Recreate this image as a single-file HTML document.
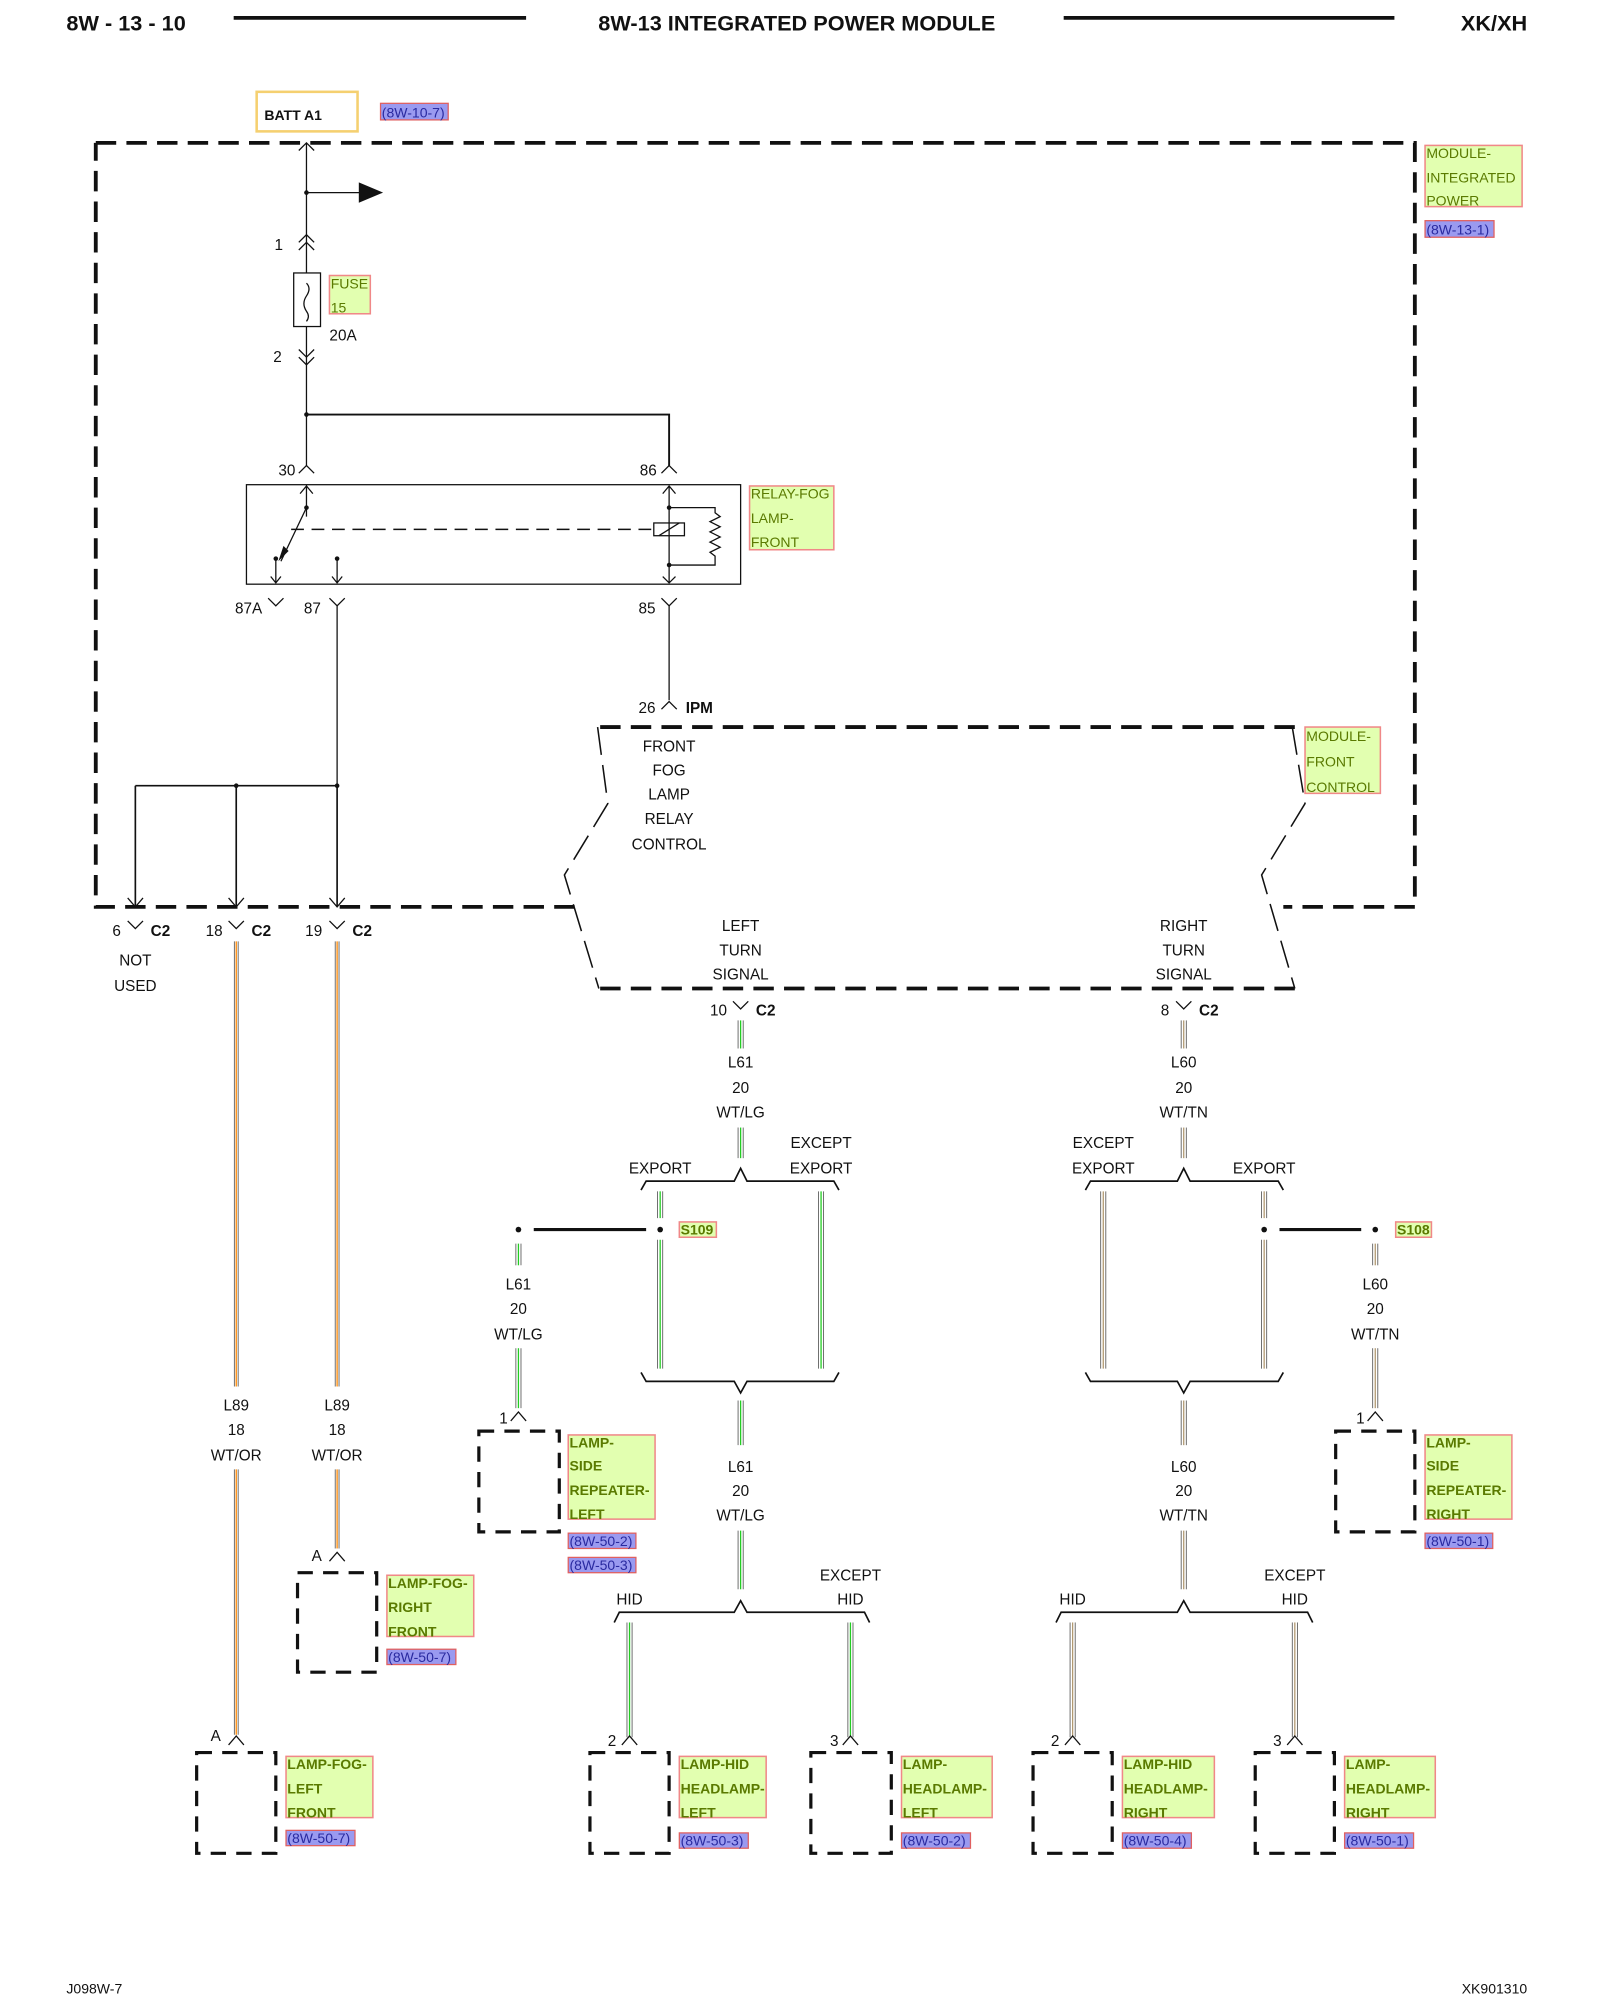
<!DOCTYPE html>
<html><head><meta charset="utf-8"><style>
html,body{margin:0;padding:0;background:#fff;}
svg{display:block;}
text{font-family:"Liberation Sans",sans-serif;font-size:12px;fill:#111;}
.b{font-weight:bold;}
.c{text-anchor:middle;}
.g{fill:#5a7a00;}
.r{fill:#2a2aa0;}
.gb{fill:#e2ffb0;stroke:#f08888;stroke-width:1.2;}
.rb{fill:#9a9af0;stroke:#e06060;stroke-width:1;}
.w{stroke:#111;stroke-width:1;fill:none;}
.d{stroke:#111;stroke-width:3;fill:none;stroke-dasharray:16,8;}
.db{stroke:#111;stroke-width:2.5;fill:none;stroke-dasharray:12,8;}
.gr{stroke:#22cc22;stroke-width:1;}
.tn{stroke:#b09870;stroke-width:1;}
.or{stroke:#ff8800;stroke-width:1;}
.k{stroke:#444;stroke-width:0.6;}
</style></head><body>
<svg width="1600" height="2000" viewBox="0 0 1253 1568" preserveAspectRatio="none" xmlns="http://www.w3.org/2000/svg">
<!-- header -->
<text x="52" y="24" class="b" style="font-size:17px">8W - 13 - 10</text>
<line x1="183" y1="14" x2="412" y2="14" stroke="#111" stroke-width="3"/>
<text x="624" y="24" class="b c" style="font-size:17px">8W-13 INTEGRATED POWER MODULE</text>
<line x1="833" y1="14" x2="1092" y2="14" stroke="#111" stroke-width="3"/>
<text x="1196" y="24" class="b" style="font-size:17px;text-anchor:end">XK/XH</text>

<!-- BATT -->
<rect x="201" y="72" width="79" height="31" fill="none" stroke="#f5d070" stroke-width="2"/>
<text x="207" y="94" class="b" style="font-size:11px">BATT A1</text>
<rect x="298" y="81" width="53" height="13" class="rb"/><text x="299" y="92" class="r" style="font-size:11px">(8W-10-7)</text>

<!-- module integrated power box -->
<path class="d" d="M75 112 H1108 V711 H1005 M450 711 H75 V112"/>
<rect x="1116" y="114" width="76" height="48" class="gb"/>
<text x="1117" y="124" class="g" style="font-size:11px">MODULE-</text>
<text x="1117" y="143" class="g" style="font-size:11px">INTEGRATED</text>
<text x="1117" y="161" class="g" style="font-size:11px">POWER</text>
<rect x="1116" y="173" width="54" height="13" class="rb"/><text x="1117" y="184" class="r" style="font-size:11px">(8W-13-1)</text>

<!-- main feed -->
<path class="w" d="M240 112 V214 M240 256 V365 M234 118 L240 112 L246 118"/>
<path class="w" d="M240 151 H284"/><circle cx="240" cy="151" r="1.8" fill="#111"/>
<path d="M281 143 L300 151 L281 159 Z" fill="#111"/>
<path class="w" d="M234 190 L240 184 L246 190 M234 196 L240 190 L246 196"/>
<text x="215" y="196">1</text>
<rect x="230" y="214" width="21" height="42" fill="#fff" stroke="#111"/>
<path class="w" d="M240 222 q4 4 0 10 q-4 6 0 12 q3 4 0 8"/>
<rect x="258" y="216" width="32" height="30" class="gb"/>
<text x="259" y="226" class="g" style="font-size:11px">FUSE</text>
<text x="259" y="245" class="g" style="font-size:11px">15</text>
<text x="258" y="267">20A</text>
<path class="w" d="M234 274 L240 280 L246 274 M234 280 L240 286 L246 280"/>
<text x="214" y="284">2</text>
<circle cx="240" cy="325" r="1.8" fill="#111"/>
<path class="w" d="M240 325 H524 V365" style="stroke-width:1.5"/>
<path class="w" d="M234 371 L240 365 L246 371 M518 371 L524 365 L530 371"/>
<text x="218" y="373">30</text><text x="501" y="373">86</text>

<!-- relay -->
<rect x="193" y="380" width="387" height="78" fill="none" stroke="#111" stroke-width="1"/>
<path class="w" d="M240 380 V405 M235 387 L240 381 L245 387"/>
<circle cx="240" cy="398" r="1.8" fill="#111"/>
<path class="w" d="M240 398 L220 440"/><path d="M218 440 L222 428 L226 432 Z" fill="#111"/>
<circle cx="216" cy="438" r="1.8" fill="#111"/>
<path class="w" d="M216 438 V457 M212 452 L216 457 L220 452"/>
<circle cx="264" cy="438" r="1.8" fill="#111"/>
<path class="w" d="M264 438 V457 M260 452 L264 457 L268 452"/>
<line x1="228" y1="415" x2="512" y2="415" stroke="#111" stroke-width="1.2" stroke-dasharray="10,6"/>
<rect x="512" y="410" width="24" height="10" fill="#fff" stroke="#111"/>
<path class="w" d="M516 420 L532 410"/>
<path class="w" d="M524 381 V457 M519 387 L524 381 L529 387 M519 452 L524 457 L529 452"/>
<path class="w" d="M524 398 H560 V402 l4 3 l-8 4 l8 4 l-8 4 l8 4 l-8 4 l8 4 l-8 4 l4 3 V443 H524"/>
<circle cx="524" cy="398" r="1.8" fill="#111"/><circle cx="524" cy="443" r="1.8" fill="#111"/>
<rect x="587" y="381" width="66" height="50" class="gb"/>
<text x="588" y="391" class="g" style="font-size:11px">RELAY-FOG</text>
<text x="588" y="410" class="g" style="font-size:11px">LAMP-</text>
<text x="588" y="429" class="g" style="font-size:11px">FRONT</text>
<path class="w" d="M210 469 L216 475 L222 469 M258 469 L264 475 L270 469 M518 469 L524 475 L530 469"/>
<text x="184" y="481">87A</text><text x="238" y="481">87</text><text x="500" y="481">85</text>
<path class="w" d="M264 475 V616 M524 475 V549"/>
<path class="w" d="M518 556 L524 550 L530 556"/>
<text x="500" y="559">26</text><text x="537" y="559" class="b">IPM</text>
<path class="w" d="M106 616 H264 M106 616 V711 M185 616 V711 M264 616 V711" style="stroke-width:1.3"/>
<circle cx="185" cy="616" r="1.8" fill="#111"/><circle cx="264" cy="616" r="1.8" fill="#111"/>
<path class="w" d="M100 704 L106 711 L112 704 M179 704 L185 711 L191 704 M258 704 L264 711 L270 704"/>
<path class="w" d="M100 722 L106 728 L112 722 M179 722 L185 728 L191 722 M258 722 L264 728 L270 722"/>
<text x="88" y="734">6</text><text x="118" y="734" class="b">C2</text>
<text x="161" y="734">18</text><text x="197" y="734" class="b">C2</text>
<text x="239" y="734">19</text><text x="276" y="734" class="b">C2</text>
<text x="106" y="757" class="c">NOT</text><text x="106" y="777" class="c">USED</text>

<!-- front control module -->
<path class="d" d="M470 570 H1014 M470 775 H1014"/>
<path class="w" d="M468 570 L476 630 L442 686 L469 775 M1012 570 L1022 630 L988 686 L1014 775" stroke-dasharray="22,8" style="stroke-width:1.2"/>
<rect x="1022" y="570" width="59" height="52" class="gb"/>
<text x="1023" y="581" class="g" style="font-size:11px">MODULE-</text>
<text x="1023" y="601" class="g" style="font-size:11px">FRONT</text>
<text x="1023" y="621" class="g" style="font-size:11px">CONTROL</text>
<text x="524" y="589" class="c">FRONT</text><text x="524" y="608" class="c">FOG</text><text x="524" y="627" class="c">LAMP</text><text x="524" y="646" class="c">RELAY</text><text x="524" y="666" class="c">CONTROL</text>
<text x="580" y="730" class="c">LEFT</text><text x="580" y="749" class="c">TURN</text><text x="580" y="768" class="c">SIGNAL</text>
<text x="927" y="730" class="c">RIGHT</text><text x="927" y="749" class="c">TURN</text><text x="927" y="768" class="c">SIGNAL</text>
<path class="w" d="M574 785 L580 791 L586 785 M921 785 L927 791 L933 785"/>
<text x="556" y="796">10</text><text x="592" y="796" class="b">C2</text>
<text x="909" y="796">8</text><text x="939" y="796" class="b">C2</text>

<!-- L89 wires -->
<g>
<line x1="183.5" y1="738" x2="183.5" y2="1087" class="k"/><line x1="185" y1="738" x2="185" y2="1087" class="or"/><line x1="186.5" y1="738" x2="186.5" y2="1087" class="k"/>
<line x1="183.5" y1="1152" x2="183.5" y2="1360" class="k"/><line x1="185" y1="1152" x2="185" y2="1360" class="or"/><line x1="186.5" y1="1152" x2="186.5" y2="1360" class="k"/>
<line x1="262.5" y1="738" x2="262.5" y2="1087" class="k"/><line x1="264" y1="738" x2="264" y2="1087" class="or"/><line x1="265.5" y1="738" x2="265.5" y2="1087" class="k"/>
<line x1="262.5" y1="1152" x2="262.5" y2="1214" class="k"/><line x1="264" y1="1152" x2="264" y2="1214" class="or"/><line x1="265.5" y1="1152" x2="265.5" y2="1214" class="k"/>
</g>
<text x="185" y="1106" class="c">L89</text><text x="185" y="1125" class="c">18</text><text x="185" y="1145" class="c">WT/OR</text>
<text x="264" y="1106" class="c">L89</text><text x="264" y="1125" class="c">18</text><text x="264" y="1145" class="c">WT/OR</text>
<path class="w" d="M258 1224 L264 1217 L270 1224 M179 1368 L185 1361 L191 1368"/>
<text x="244" y="1224">A</text><text x="165" y="1365">A</text>

<!-- L61 wires (green) -->
<g>
<line x1="578" y1="800" x2="578" y2="822" class="k"/><line x1="580" y1="800" x2="580" y2="822" class="gr"/><line x1="582" y1="800" x2="582" y2="822" class="k"/>
<line x1="578" y1="884" x2="578" y2="908" class="k"/><line x1="580" y1="884" x2="580" y2="908" class="gr"/><line x1="582" y1="884" x2="582" y2="908" class="k"/>
<line x1="515" y1="934" x2="515" y2="955" class="k"/><line x1="517" y1="934" x2="517" y2="955" class="gr"/><line x1="519" y1="934" x2="519" y2="955" class="k"/>
<line x1="515" y1="972" x2="515" y2="1073" class="k"/><line x1="517" y1="972" x2="517" y2="1073" class="gr"/><line x1="519" y1="972" x2="519" y2="1073" class="k"/>
<line x1="641" y1="934" x2="641" y2="1073" class="k"/><line x1="643" y1="934" x2="643" y2="1073" class="gr"/><line x1="645" y1="934" x2="645" y2="1073" class="k"/>
<line x1="404" y1="975" x2="404" y2="992" class="k"/><line x1="406" y1="975" x2="406" y2="992" class="gr"/><line x1="408" y1="975" x2="408" y2="992" class="k"/>
<line x1="404" y1="1057" x2="404" y2="1104" class="k"/><line x1="406" y1="1057" x2="406" y2="1104" class="gr"/><line x1="408" y1="1057" x2="408" y2="1104" class="k"/>
<line x1="578" y1="1098" x2="578" y2="1133" class="k"/><line x1="580" y1="1098" x2="580" y2="1133" class="gr"/><line x1="582" y1="1098" x2="582" y2="1133" class="k"/>
<line x1="578" y1="1200" x2="578" y2="1246" class="k"/><line x1="580" y1="1200" x2="580" y2="1246" class="gr"/><line x1="582" y1="1200" x2="582" y2="1246" class="k"/>
<line x1="491" y1="1272" x2="491" y2="1362" class="k"/><line x1="493" y1="1272" x2="493" y2="1362" class="gr"/><line x1="495" y1="1272" x2="495" y2="1362" class="k"/>
<line x1="664" y1="1272" x2="664" y2="1362" class="k"/><line x1="666" y1="1272" x2="666" y2="1362" class="gr"/><line x1="668" y1="1272" x2="668" y2="1362" class="k"/>
</g>
<!-- L60 wires (tan) -->
<g>
<line x1="925" y1="800" x2="925" y2="822" class="k"/><line x1="927" y1="800" x2="927" y2="822" class="tn"/><line x1="929" y1="800" x2="929" y2="822" class="k"/>
<line x1="925" y1="884" x2="925" y2="908" class="k"/><line x1="927" y1="884" x2="927" y2="908" class="tn"/><line x1="929" y1="884" x2="929" y2="908" class="k"/>
<line x1="862" y1="934" x2="862" y2="1073" class="k"/><line x1="864" y1="934" x2="864" y2="1073" class="tn"/><line x1="866" y1="934" x2="866" y2="1073" class="k"/>
<line x1="988" y1="934" x2="988" y2="955" class="k"/><line x1="990" y1="934" x2="990" y2="955" class="tn"/><line x1="992" y1="934" x2="992" y2="955" class="k"/>
<line x1="988" y1="972" x2="988" y2="1073" class="k"/><line x1="990" y1="972" x2="990" y2="1073" class="tn"/><line x1="992" y1="972" x2="992" y2="1073" class="k"/>
<line x1="1075" y1="975" x2="1075" y2="992" class="k"/><line x1="1077" y1="975" x2="1077" y2="992" class="tn"/><line x1="1079" y1="975" x2="1079" y2="992" class="k"/>
<line x1="1075" y1="1057" x2="1075" y2="1104" class="k"/><line x1="1077" y1="1057" x2="1077" y2="1104" class="tn"/><line x1="1079" y1="1057" x2="1079" y2="1104" class="k"/>
<line x1="925" y1="1098" x2="925" y2="1133" class="k"/><line x1="927" y1="1098" x2="927" y2="1133" class="tn"/><line x1="929" y1="1098" x2="929" y2="1133" class="k"/>
<line x1="925" y1="1200" x2="925" y2="1246" class="k"/><line x1="927" y1="1200" x2="927" y2="1246" class="tn"/><line x1="929" y1="1200" x2="929" y2="1246" class="k"/>
<line x1="838" y1="1272" x2="838" y2="1362" class="k"/><line x1="840" y1="1272" x2="840" y2="1362" class="tn"/><line x1="842" y1="1272" x2="842" y2="1362" class="k"/>
<line x1="1012" y1="1272" x2="1012" y2="1362" class="k"/><line x1="1014" y1="1272" x2="1014" y2="1362" class="tn"/><line x1="1016" y1="1272" x2="1016" y2="1362" class="k"/>
</g>

<text x="580" y="837" class="c">L61</text><text x="580" y="857" class="c">20</text><text x="580" y="876" class="c">WT/LG</text>
<text x="927" y="837" class="c">L60</text><text x="927" y="857" class="c">20</text><text x="927" y="876" class="c">WT/TN</text>

<!-- braces -->
<path class="w" d="M502 933 L506 926 H575 L580 916 L585 926 H653 L657 933" style="stroke-width:1.3"/>
<path class="w" d="M850 933 L854 926 H922 L927 916 L932 926 H1001 L1005 933" style="stroke-width:1.3"/>
<text x="517" y="920" class="c">EXPORT</text><text x="643" y="900" class="c">EXCEPT</text><text x="643" y="920" class="c">EXPORT</text>
<text x="864" y="900" class="c">EXCEPT</text><text x="864" y="920" class="c">EXPORT</text><text x="990" y="920" class="c">EXPORT</text>
<path class="w" d="M502 1076 L506 1083 H575 L580 1092 L585 1083 H653 L657 1076" style="stroke-width:1.3"/>
<path class="w" d="M850 1076 L854 1083 H922 L927 1092 L932 1083 H1001 L1005 1076" style="stroke-width:1.3"/>
<path class="w" d="M481 1272 L485 1264 H575 L580 1255 L585 1264 H677 L681 1272" style="stroke-width:1.3"/>
<path class="w" d="M827 1272 L831 1264 H922 L927 1255 L932 1264 H1024 L1028 1272" style="stroke-width:1.3"/>
<text x="493" y="1258" class="c">HID</text><text x="666" y="1239" class="c">EXCEPT</text><text x="666" y="1258" class="c">HID</text>
<text x="840" y="1258" class="c">HID</text><text x="1014" y="1239" class="c">EXCEPT</text><text x="1014" y="1258" class="c">HID</text>

<!-- splices -->
<circle cx="517" cy="964" r="2.2" fill="#111"/><circle cx="406" cy="964" r="2.2" fill="#111"/>
<line x1="418" y1="964" x2="506" y2="964" stroke="#111" stroke-width="2.5"/>
<rect x="532" y="958" width="29" height="12" class="gb"/><text x="533" y="968" class="g b" style="font-size:11px">S109</text>
<circle cx="990" cy="964" r="2.2" fill="#111"/><circle cx="1077" cy="964" r="2.2" fill="#111"/>
<line x1="1002" y1="964" x2="1066" y2="964" stroke="#111" stroke-width="2.5"/>
<rect x="1093" y="958" width="28" height="12" class="gb"/><text x="1094" y="968" class="g b" style="font-size:11px">S108</text>
<text x="406" y="1011" class="c">L61</text><text x="406" y="1030" class="c">20</text><text x="406" y="1050" class="c">WT/LG</text>
<text x="1077" y="1011" class="c">L60</text><text x="1077" y="1030" class="c">20</text><text x="1077" y="1050" class="c">WT/TN</text>
<text x="580" y="1154" class="c">L61</text><text x="580" y="1173" class="c">20</text><text x="580" y="1192" class="c">WT/LG</text>
<text x="927" y="1154" class="c">L60</text><text x="927" y="1173" class="c">20</text><text x="927" y="1192" class="c">WT/TN</text>

<!-- pin chevrons -->
<path class="w" d="M400 1114 L406 1107 L412 1114 M1071 1114 L1077 1107 L1083 1114 M487 1368 L493 1361 L499 1368 M660 1368 L666 1361 L672 1368 M834 1368 L840 1361 L846 1368 M1008 1368 L1014 1361 L1020 1368"/>
<text x="391" y="1116">1</text><text x="1062" y="1116">1</text>
<text x="476" y="1369">2</text><text x="650" y="1369">3</text><text x="823" y="1369">2</text><text x="997" y="1369">3</text>

<!-- component boxes -->
<rect x="375" y="1122" width="63" height="79" class="db"/>
<rect x="1046" y="1122" width="62" height="79" class="db"/>
<rect x="233" y="1233" width="62" height="78" class="db"/>
<rect x="154" y="1374" width="62" height="79" class="db"/>
<rect x="462" y="1374" width="62" height="79" class="db"/>
<rect x="635" y="1374" width="63" height="79" class="db"/>
<rect x="809" y="1374" width="62" height="79" class="db"/>
<rect x="983" y="1374" width="62" height="79" class="db"/>

<!-- component labels -->
<rect x="445" y="1125" width="68" height="66" class="gb"/>
<text x="446" y="1135" class="g b" style="font-size:11px">LAMP-</text><text x="446" y="1153" class="g b" style="font-size:11px">SIDE</text><text x="446" y="1172" class="g b" style="font-size:11px">REPEATER-</text><text x="446" y="1191" class="g b" style="font-size:11px">LEFT</text>
<rect x="445" y="1202" width="53" height="12" class="rb"/><text x="446" y="1212" class="r" style="font-size:11px">(8W-50-2)</text>
<rect x="445" y="1221" width="53" height="12" class="rb"/><text x="446" y="1231" class="r" style="font-size:11px">(8W-50-3)</text>

<rect x="1116" y="1125" width="68" height="66" class="gb"/>
<text x="1117" y="1135" class="g b" style="font-size:11px">LAMP-</text><text x="1117" y="1153" class="g b" style="font-size:11px">SIDE</text><text x="1117" y="1172" class="g b" style="font-size:11px">REPEATER-</text><text x="1117" y="1191" class="g b" style="font-size:11px">RIGHT</text>
<rect x="1116" y="1202" width="53" height="12" class="rb"/><text x="1117" y="1212" class="r" style="font-size:11px">(8W-50-1)</text>

<rect x="303" y="1235" width="68" height="48" class="gb"/>
<text x="304" y="1245" class="g b" style="font-size:11px">LAMP-FOG-</text><text x="304" y="1264" class="g b" style="font-size:11px">RIGHT</text><text x="304" y="1283" class="g b" style="font-size:11px">FRONT</text>
<rect x="303" y="1293" width="54" height="12" class="rb"/><text x="304" y="1303" class="r" style="font-size:11px">(8W-50-7)</text>

<rect x="224" y="1377" width="68" height="48" class="gb"/>
<text x="225" y="1387" class="g b" style="font-size:11px">LAMP-FOG-</text><text x="225" y="1406" class="g b" style="font-size:11px">LEFT</text><text x="225" y="1425" class="g b" style="font-size:11px">FRONT</text>
<rect x="224" y="1435" width="54" height="12" class="rb"/><text x="225" y="1445" class="r" style="font-size:11px">(8W-50-7)</text>

<rect x="532" y="1377" width="68" height="48" class="gb"/>
<text x="533" y="1387" class="g b" style="font-size:11px">LAMP-HID</text><text x="533" y="1406" class="g b" style="font-size:11px">HEADLAMP-</text><text x="533" y="1425" class="g b" style="font-size:11px">LEFT</text>
<rect x="532" y="1437" width="54" height="12" class="rb"/><text x="533" y="1447" class="r" style="font-size:11px">(8W-50-3)</text>

<rect x="706" y="1377" width="71" height="48" class="gb"/>
<text x="707" y="1387" class="g b" style="font-size:11px">LAMP-</text><text x="707" y="1406" class="g b" style="font-size:11px">HEADLAMP-</text><text x="707" y="1425" class="g b" style="font-size:11px">LEFT</text>
<rect x="706" y="1437" width="54" height="12" class="rb"/><text x="707" y="1447" class="r" style="font-size:11px">(8W-50-2)</text>

<rect x="879" y="1377" width="72" height="48" class="gb"/>
<text x="880" y="1387" class="g b" style="font-size:11px">LAMP-HID</text><text x="880" y="1406" class="g b" style="font-size:11px">HEADLAMP-</text><text x="880" y="1425" class="g b" style="font-size:11px">RIGHT</text>
<rect x="879" y="1437" width="54" height="12" class="rb"/><text x="880" y="1447" class="r" style="font-size:11px">(8W-50-4)</text>

<rect x="1053" y="1377" width="71" height="48" class="gb"/>
<text x="1054" y="1387" class="g b" style="font-size:11px">LAMP-</text><text x="1054" y="1406" class="g b" style="font-size:11px">HEADLAMP-</text><text x="1054" y="1425" class="g b" style="font-size:11px">RIGHT</text>
<rect x="1053" y="1437" width="54" height="12" class="rb"/><text x="1054" y="1447" class="r" style="font-size:11px">(8W-50-1)</text>

<!-- footer -->
<text x="52" y="1563" style="font-size:11px">J098W-7</text>
<text x="1196" y="1563" style="font-size:11px;text-anchor:end">XK901310</text>
</svg>
</body></html>
